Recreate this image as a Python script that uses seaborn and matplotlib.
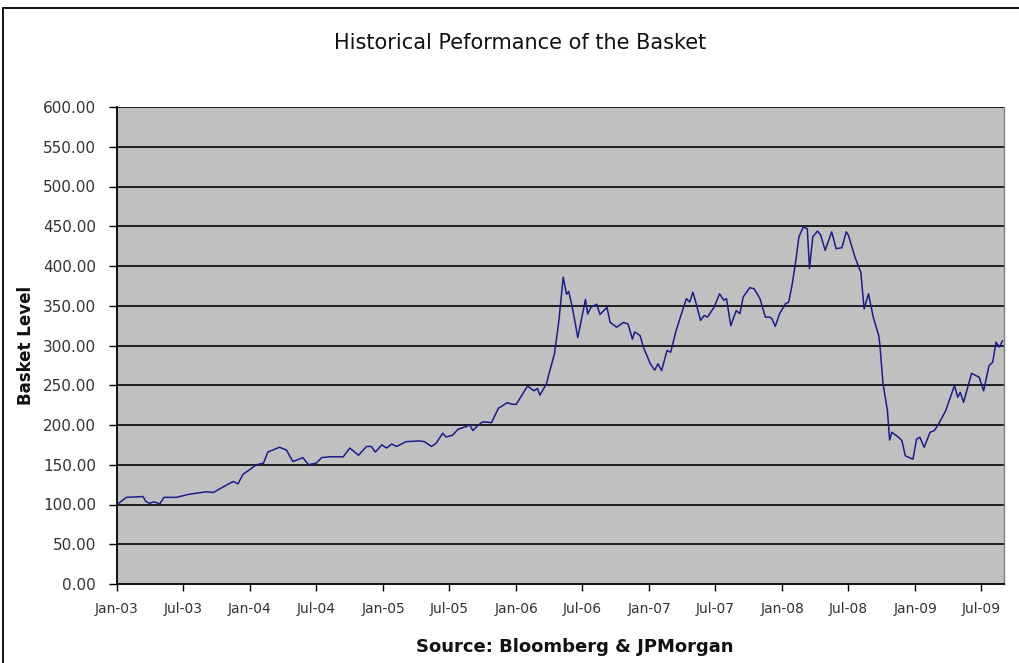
import matplotlib
matplotlib.use("Agg")
import matplotlib.pyplot as plt
import matplotlib.dates as mdates
from matplotlib.lines import Line2D
import pandas as pd
import seaborn as sns

# ---- data ----
dates = [
    "2003-01-01", "2003-01-27", "2003-03-13", "2003-03-22", "2003-04-01", "2003-04-13",
    "2003-04-28", "2003-05-10", "2003-06-13", "2003-07-19", "2003-09-04", "2003-09-22",
    "2003-10-19", "2003-11-16", "2003-11-29", "2003-12-13", "2004-01-19", "2004-02-07",
    "2004-02-19", "2004-03-22", "2004-04-10", "2004-04-28", "2004-05-25", "2004-06-10",
    "2004-07-01", "2004-07-16", "2004-08-07", "2004-09-13", "2004-10-01", "2004-10-25",
    "2004-11-16", "2004-11-29", "2004-12-10", "2004-12-28", "2005-01-10", "2005-01-24",
    "2005-02-07", "2005-03-04", "2005-04-10", "2005-04-24", "2005-05-13", "2005-05-26",
    "2005-06-13", "2005-06-22", "2005-07-10", "2005-07-25", "2005-08-16", "2005-08-26",
    "2005-09-04", "2005-09-19", "2005-10-01", "2005-10-25", "2005-11-13", "2005-12-07",
    "2005-12-22", "2006-01-01", "2006-02-01", "2006-02-19", "2006-02-28", "2006-03-07",
    "2006-03-25", "2006-04-01", "2006-04-16", "2006-04-28", "2006-05-10", "2006-05-19",
    "2006-05-25", "2006-06-04", "2006-06-19", "2006-07-10", "2006-07-16", "2006-07-25",
    "2006-08-10", "2006-08-19", "2006-09-07", "2006-09-16", "2006-10-04", "2006-10-22",
    "2006-11-04", "2006-11-16", "2006-11-22", "2006-12-07", "2006-12-16", "2007-01-04",
    "2007-01-16", "2007-01-25", "2007-02-04", "2007-02-19", "2007-03-01", "2007-03-16",
    "2007-04-13", "2007-04-22", "2007-05-01", "2007-05-10", "2007-05-22", "2007-06-01",
    "2007-06-10", "2007-06-28", "2007-07-13", "2007-07-25", "2007-08-01", "2007-08-13",
    "2007-08-28", "2007-09-07", "2007-09-16", "2007-10-04", "2007-10-16", "2007-11-01",
    "2007-11-16", "2007-11-28", "2007-12-04", "2007-12-13", "2007-12-25", "2008-01-10",
    "2008-01-19", "2008-01-28", "2008-02-07", "2008-02-16", "2008-02-28", "2008-03-10",
    "2008-03-16", "2008-03-25", "2008-04-07", "2008-04-16", "2008-04-28", "2008-05-16",
    "2008-05-28", "2008-06-13", "2008-06-25", "2008-07-01", "2008-07-19", "2008-08-04",
    "2008-08-13", "2008-08-25", "2008-09-07", "2008-09-22", "2008-09-25", "2008-10-04",
    "2008-10-16", "2008-10-22", "2008-10-28", "2008-11-16", "2008-11-25", "2008-12-04",
    "2008-12-25", "2009-01-04", "2009-01-13", "2009-01-25", "2009-02-10", "2009-02-22",
    "2009-03-05", "2009-03-25", "2009-04-18", "2009-04-27", "2009-05-04", "2009-05-13",
    "2009-06-04", "2009-06-25", "2009-07-07", "2009-07-22", "2009-08-01", "2009-08-10",
    "2009-08-19", "2009-08-28",
]
basket_level = [
    100, 109, 110, 103.5, 101.5, 103.5,
    100.6, 109, 109, 113, 116, 115,
    122, 129, 126, 138, 150, 152,
    166, 172, 168.6, 154, 159, 150,
    152, 159, 160, 160, 171, 162,
    173, 173, 166, 175, 171, 176,
    173, 179, 180, 179, 173, 177,
    189.6, 185, 187, 194.6, 198, 200,
    193, 200, 204, 203, 221, 228,
    226, 226, 249, 243, 246, 237.5,
    252, 264.6, 289.6, 331, 386, 364.6,
    368, 348, 310, 358, 339.6, 348,
    352, 339, 348, 329, 323, 329,
    327, 308, 317, 312.6, 298, 277,
    269, 277, 268.5, 293.7, 291.6, 319,
    359, 354.6, 367, 352.5, 331.5, 337.8,
    335.7, 348, 365, 357, 359, 325,
    344, 340, 361, 372.7, 371.4, 359,
    335.7, 335.7, 333.6, 324, 340, 352.5,
    354.6, 375.6, 405, 436.6, 449, 447,
    396.6, 436.6, 444, 438.6, 419.7, 443,
    421.8, 423, 443, 438.6, 411, 392,
    346, 365, 335.7, 312.6, 302, 251.7,
    218, 181, 190.8, 184.5, 180, 161.3,
    157, 182.4, 184.5, 172, 190.8, 193,
    201, 218, 249.6, 235, 241, 228.6,
    265, 260, 243, 274.8, 279, 304.2,
    298, 306,
]
y_ticks = [0, 50, 100, 150, 200, 250, 300, 350, 400, 450, 500, 550, 600]
x_tick_dates = ["2003-01-01", "2003-07-01", "2004-01-01", "2004-07-01", "2005-01-01",
                "2005-07-01", "2006-01-01", "2006-07-01", "2007-01-01", "2007-07-01",
                "2008-01-01", "2008-07-01", "2009-01-01", "2009-07-01"]
x_start, x_end = "2003-01-01", "2009-09-01"

title = "Historical Peformance of the Basket"
y_label = "Basket Level"
x_label = "Source: Bloomberg & JPMorgan"

# ---- plotting ----
sns.set_theme(style="white")
plt.rcParams["font.family"] = ["DejaVu Sans"]

df = pd.DataFrame({"date": pd.to_datetime(dates), "level": basket_level})

fig = plt.figure(figsize=(10.19, 6.63), dpi=100)
fig.patch.set_facecolor("white")
ax = fig.add_axes([117 / 1019, 1 - 584 / 663, (1004 - 117) / 1019, (584 - 107) / 663])
ax.set_facecolor("#c0c0c0")

for yv in y_ticks[1:]:
    ax.axhline(yv, color="#111111", lw=1.3, zorder=1)

sns.lineplot(data=df, x="date", y="level", ax=ax, color="#1c1c8a", lw=1.1, zorder=3)

ax.set_ylim(0, 600)
ax.set_xlim(pd.Timestamp(x_start), pd.Timestamp(x_end))
ax.set_yticks(y_ticks)
ax.set_yticklabels([f"{v:.2f}" for v in y_ticks], fontsize=11, color="#333333")
ax.set_xticks(pd.to_datetime(x_tick_dates))
ax.xaxis.set_major_formatter(mdates.DateFormatter("%b-%y"))
ax.tick_params(axis="x", labelsize=10, labelcolor="#333333", direction="out", length=5,
               width=1, pad=8, bottom=True, color="black")
ax.tick_params(axis="y", direction="out", length=6, width=1, pad=9, left=True,
               color="black")

for side in ["left", "bottom"]:
    ax.spines[side].set_color("black")
    ax.spines[side].set_linewidth(1.3)
ax.spines["top"].set_visible(False)
ax.spines["right"].set_color("#808080")
ax.spines["right"].set_linewidth(1)

ax.set_xlabel("")
ax.set_ylabel(y_label, fontsize=12, fontweight="bold", labelpad=6, color="#111111")
fig.text(575 / 1019, 1 - 647 / 663, x_label, ha="center", va="center", fontsize=13,
         fontweight="bold", color="#111111")
fig.text(0.5 + 0.01, 1 - 43 / 663, title, ha="center", va="center", fontsize=15,
         color="#111111")

# figure frame (cut off on the right/bottom in the reference)
fig.add_artist(Line2D([3 / 1019, 3 / 1019], [0, 1 - 8 / 663], transform=fig.transFigure,
                      color="black", lw=1.3))
fig.add_artist(Line2D([3 / 1019, 1], [1 - 8 / 663, 1 - 8 / 663], transform=fig.transFigure,
                      color="black", lw=1.3))

fig.savefig("out.png", dpi=100)
